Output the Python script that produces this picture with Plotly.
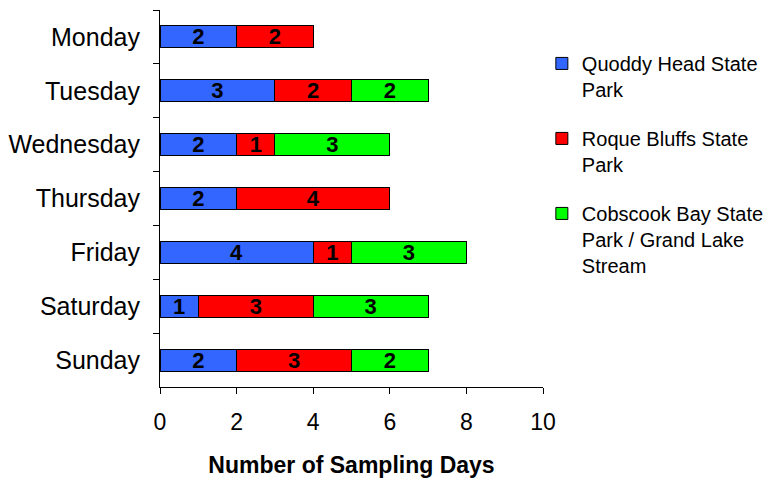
import plotly.graph_objects as go

days = ["Monday", "Tuesday", "Wednesday", "Thursday", "Friday", "Saturday", "Sunday"]
quoddy = [2, 3, 2, 2, 4, 1, 2]
roque = [2, 2, 1, 4, 1, 3, 3]
cobscook = [0, 2, 3, 0, 3, 3, 2]

series = [
    ("Quoddy Head State<br>Park", quoddy, "#3366FF"),
    ("Roque Bluffs State<br>Park", roque, "#FF0000"),
    ("Cobscook Bay State<br>Park / Grand Lake<br>Stream", cobscook, "#00FF00"),
]

FONT = "Liberation Sans, Arial"

fig = go.Figure()
for i, (name, vals, color) in enumerate(series):
    fig.add_trace(go.Bar(
        y=days, x=vals, orientation="h", name=name, legendgroup=f"g{i}",
        marker=dict(color=color, line=dict(color="black", width=1)),
        text=[str(v) if v else "" for v in vals],
        textposition="inside", insidetextanchor="middle", textangle=0,
        textfont=dict(family=FONT, size=22, color="black", weight="bold"),
        constraintext="none", hoverinfo="skip",
    ))

fig.update_layout(
    width=772, height=480, barmode="stack", bargap=0.59,
    margin=dict(l=160, r=229, t=10, b=93, autoexpand=False),
    plot_bgcolor="white", paper_bgcolor="white",
    font=dict(family=FONT, size=20, color="black"),
    legend=dict(x=0.997, y=0.91, xanchor="left", yanchor="top",
                traceorder="grouped", tracegroupgap=20, valign="top",
                font=dict(size=20), itemwidth=30),
    xaxis=dict(range=[0, 10], dtick=2, showline=True, linecolor="black", linewidth=1,
               ticks="outside", ticklen=6, tickcolor="black", showgrid=False, zeroline=False,
               tickfont=dict(size=23), ticklabelstandoff=8, automargin=False,
               title=dict(text="<b>Number of Sampling Days</b>", font=dict(size=23), standoff=23)),
    yaxis=dict(autorange="reversed", showline=True, linecolor="black", linewidth=1,
               ticks="outside", ticklen=6, tickcolor="black", tickson="boundaries",
               showgrid=False, ticklabelstandoff=14, tickfont=dict(size=25), automargin=False),
)

fig.write_html("out.html")
